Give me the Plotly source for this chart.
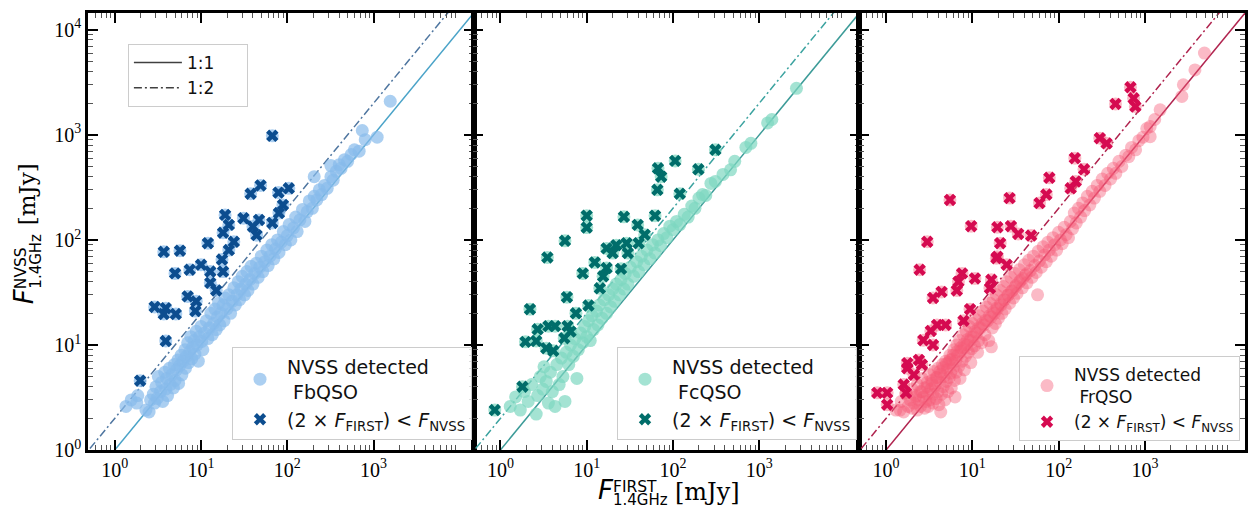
import plotly.graph_objects as go

# ---------------- data (mJy) ----------------
# Panel 1: FbQSO, NVSS detected (circles)
fb_circ_x = [1.35, 1.55, 1.8, 1.85, 2.3, 2.5, 2.6, 2.8, 2.9, 3.0, 3.1, 3.2, 3.4, 3.5, 3.6, 3.8, 3.9, 4.0, 4.1, 4.3,
             4.4, 4.6, 4.8, 4.9, 5.0, 5.2, 5.4, 5.5, 5.7, 5.9, 6.0, 6.2, 6.5, 6.6, 6.8, 7.0, 7.2, 7.4, 7.6, 7.8,
             8.0, 8.3, 8.5, 8.8, 9.0, 9.3, 9.6, 10.0, 10.2, 10.5, 11.0, 11.5, 12.0, 12.5, 13.0, 13.5, 14.0, 14.5, 15.0, 15.5,
             16.0, 16.5, 17.0, 18.0, 18.5, 19.0, 20.0, 21, 22, 23, 24, 25, 26, 27, 28, 29, 30, 32, 33, 34,
             35, 37, 38, 40, 42, 44, 46, 48, 50, 52, 55, 58, 60, 63, 66, 70, 73, 77, 80, 85,
             90, 95, 100, 105, 110, 118, 125, 130, 140, 150, 160, 170, 180, 195, 205, 205, 220, 235, 250, 270,
             290, 320, 320, 340, 370, 400, 420, 460, 500, 550, 600, 680, 740, 800, 1100, 1560]
fb_circ_y = [2.6, 3.0, 2.8, 3.3, 2.4, 2.3, 3.0, 3.4, 2.8, 4.0, 3.1, 5.0, 3.6, 4.4, 2.9, 5.5, 3.8, 4.8, 3.3, 6.0,
             4.2, 5.2, 3.9, 6.5, 4.6, 5.8, 7.2, 4.3, 6.4, 8.0, 5.2, 7.0, 9.0, 6.0, 7.8, 10.5, 6.8, 8.6, 12.0, 7.4,
             9.5, 11.0, 8.2, 13.5, 10.0, 7.0, 12.0, 15.0, 10.8, 9.0, 13.0, 17.0, 11.5, 14.5, 20.0, 12.5, 16.0, 22.0, 14.0, 18.5,
             25.0, 15.5, 20.0, 24.0, 17.0, 28.0, 22.0, 30, 20, 26, 35, 24, 30, 40, 27, 34, 45, 30, 38, 50,
             33, 42, 56, 38, 48, 60, 44, 55, 70, 50, 62, 80, 57, 70, 90, 66, 82, 100, 76, 95,
             120, 90, 110, 140, 100, 130, 165, 120, 155, 195, 150, 185, 235, 200, 400, 260, 240, 300, 270, 330,
             310, 510, 400, 370, 450, 520, 480, 580, 560, 650, 720, 700, 1100, 900, 950, 2090]
# Panel 1: (2 x F_FIRST) < F_NVSS (crosses)
fb_cross_x = [67, 37.6, 49, 79, 104, 89, 80, 19, 21, 18, 31, 47, 40, 44, 67, 12, 24, 21, 17.5, 3.7,
              5.7, 5.0, 7.4, 10, 12.8, 18, 12.8, 15, 7.0, 8.8, 8.6, 2.9, 3.9, 3.7, 5.1, 3.9, 1.97]
fb_cross_y = [980, 275, 330, 282, 310, 215, 180, 173, 139, 117, 161, 155, 134, 111, 145, 93, 96, 80, 65, 77,
              79, 48, 52, 58, 50, 50, 39, 33, 29, 26, 21, 23, 22.4, 19.7, 19.7, 10.9, 4.57]

# Panel 2: FcQSO
fc_circ_x = [1.3, 1.5, 1.7, 1.9, 2.1, 2.3, 2.6, 2.7, 2.9, 3.1, 3.2, 3.4, 3.6, 3.8, 4.0, 4.3, 4.5, 4.8, 5.1, 5.3,
             5.6, 5.8, 6.2, 6.5, 7.0, 7.3, 7.7, 8.0, 8.5, 9.0, 9.5, 10.0, 10.5, 11.0, 11.5, 12.0, 13.0, 13.5, 14.0, 15.0,
             16.0, 17.0, 18.0, 19.0, 20.0, 21.0, 22.0, 24.0, 25.0, 27.0, 28.0, 30.0, 32.0, 35.0, 38.0, 40.0, 43.0, 46.0, 50.0, 54.0,
             58.0, 62.0, 67.0, 72.0, 78.0, 85.0, 92.0, 100.0, 110.0, 120.0, 135.0, 150.0, 165.0, 180.0, 200.0, 220.0, 240.0, 275.0, 310.0, 380.0,
             465.0, 520.0, 700.0, 800.0, 1250.0, 1400.0, 2700.0]
fc_circ_y = [2.6, 3.2, 2.4, 3.6, 2.9, 4.2, 2.2, 3.3, 5.0, 3.8, 6.2, 4.5, 2.8, 5.5, 3.6, 2.6, 6.5, 4.2, 7.5, 5.0,
             2.9, 8.5, 6.5, 10.0, 7.8, 11.5, 4.8, 9.0, 13.0, 10.5, 15.0, 12.0, 17.0, 11.0, 19.0, 14.0, 21.0, 15.5, 24.0, 18.0,
             27.0, 20.0, 30.0, 23.0, 34.0, 26.0, 38.0, 30.0, 42.0, 34.0, 48.0, 38.0, 55.0, 45.0, 62.0, 50.0, 70.0, 58.0, 80.0, 66.0,
             90.0, 75.0, 100.0, 88.0, 115.0, 105.0, 135.0, 125.0, 150.0, 140.0, 175.0, 165.0, 210.0, 200.0, 250.0, 270.0, 265.0, 345.0, 360.0, 420.0,
             465.0, 560.0, 760.0, 830.0, 1300.0, 1400.0, 2770.0]
fc_cross_x = [310, 106, 67, 73, 197, 66, 120, 10, 10, 27, 62, 39, 47, 5.6, 3.5, 17, 22, 29, 20, 30,
              40, 12.4, 17, 9.0, 25, 15.5, 14.2, 5.9, 10.5, 7.5, 2.2, 2.7, 3.6, 4.3, 6.0, 6.5, 1.95, 2.6, 3.4, 4.1,
              5.5, 1.8, 0.86]
fc_cross_y = [720, 565, 480, 400, 470, 300, 275, 170, 131, 166, 170, 139, 112, 98, 68, 83, 89, 93, 75, 75,
              93, 61, 54, 48, 53, 45, 34.6, 28.5, 23.7, 20, 21.9, 14.1, 15.1, 15.1, 15.1, 13.4, 10.7, 10.9, 9.3, 8.8,
              11.6, 4.0, 2.4]

# Panel 3: FrQSO
fr_circ_x = [1.3, 1.45, 1.5, 1.6, 1.7, 1.8, 1.9, 2.0, 2.0, 2.1, 2.2, 2.3, 2.3, 2.4, 2.5, 2.5, 2.6, 2.7, 2.8, 2.8,
             2.9, 3.0, 3.0, 3.1, 3.2, 3.2, 3.3, 3.4, 3.5, 3.5, 3.6, 3.7, 3.8, 3.9, 4.0, 4.0, 4.1, 4.2, 4.3, 4.3,
             4.4, 4.5, 4.6, 4.7, 4.8, 4.9, 5.0, 5.1, 5.2, 5.3, 5.4, 5.5, 5.6, 5.7, 5.8, 6.0, 6.1, 6.2, 6.3, 6.4,
             6.5, 6.6, 6.8, 7.0, 7.1, 7.2, 7.4, 7.6, 7.8, 8.0, 8.1, 8.3, 8.5, 8.7, 9.0, 9.2, 9.4, 9.6, 9.8, 10.0,
             10.3, 10.6, 10.9, 11.2, 11.5, 11.8, 12.0, 12.4, 12.8, 13.2, 13.6, 14.0, 14.5, 15.0, 15.5, 16.0, 16.6, 16.5, 17.0, 17.5,
             18.0, 18.5, 19.0, 19.5, 20.0, 21.0, 21.5, 22.0, 23.0, 23.5, 24.0, 25.0, 26.0, 27.0, 28.0, 29.0, 30.0, 31.0, 32.0, 33.0,
             35.0, 36.0, 38.0, 40.0, 41.0, 43.0, 45.0, 47.0, 49.0, 51.0, 53.0, 55.0, 57.0, 58.0, 60.0, 63.0, 66.0, 69.0, 72.0, 75.0,
             78.0, 82.0, 86.0, 90.0, 95.0, 100.0, 105.0, 110.0, 116.0, 122.0, 130.0, 137.0, 145.0, 152.0, 160.0, 170.0, 180.0, 190.0, 200.0, 215.0,
             230.0, 245.0, 260.0, 280.0, 300.0, 320.0, 345.0, 370.0, 400.0, 430.0, 460.0, 500.0, 540.0, 600.0, 650.0, 700.0, 780.0, 850.0, 950.0, 1050.0,
             1150.0, 1150.0, 1300.0, 1500.0, 2680.0, 2790.0, 3800.0, 4900.0,
             2.2, 2.6, 3.0, 3.4, 3.8, 4.2, 4.6, 5.0, 5.5, 6.0, 6.6, 7.3, 8.0, 8.8, 9.7, 10.7, 11.8, 13.0, 14.3, 15.8,
             17.4, 19.2, 21.2, 23.4, 25.8, 28.5, 31.5, 34.8, 38.4, 42.4]
fr_circ_y = [2.4, 2.4, 2.9, 2.3, 3.4, 2.6, 3.0, 2.5, 3.8, 2.8, 3.3, 2.4, 4.2, 3.0, 3.6, 2.6, 4.8, 3.2, 2.5, 3.9,
             2.9, 4.4, 3.4, 2.6, 5.2, 3.0, 3.8, 4.6, 2.8, 3.4, 5.6, 4.1, 3.1, 4.9, 3.6, 6.0, 2.7, 4.4, 5.3, 2.3,
             3.4, 6.5, 4.0, 5.0, 3.0, 7.0, 4.5, 5.8, 3.6, 6.8, 4.9, 8.0, 5.4, 3.9, 7.3, 6.0, 9.0, 4.6, 3.2, 7.0,
             5.5, 10.0, 8.0, 6.3, 11.0, 4.8, 8.8, 7.0, 12.5, 9.5, 5.8, 7.8, 13.5, 10.0, 8.5, 15.0, 11.0, 6.8, 9.2, 16.0,
             12.0, 9.8, 17.5, 13.0, 8.5, 11.0, 19.0, 14.5, 10.5, 21.0, 15.5, 12.5, 23.0, 17.0, 11.0, 25.0, 9.6, 18.5, 14.5, 27.0,
             20.0, 16.0, 30.0, 22.0, 18.0, 33.0, 24.0, 20.0, 36.0, 27.0, 22.0, 40.0, 30.0, 25.0, 44.0, 33.0, 28.0, 48.0, 37.0, 31.0,
             52.0, 41.0, 35.0, 58.0, 46.0, 39.0, 64.0, 51.0, 44.0, 70.0, 57.0, 49.0, 30.0, 78.0, 63.0, 55.0, 86.0, 72.0, 62.0, 95.0,
             80.0, 70.0, 105.0, 90.0, 80.0, 118.0, 100.0, 92.0, 132.0, 112.0, 105.0, 150.0, 128.0, 180.0, 145.0, 200.0, 165.0, 225.0, 190.0, 260.0,
             215.0, 290.0, 250.0, 330.0, 290.0, 380.0, 330.0, 430.0, 380.0, 480.0, 430.0, 560.0, 500.0, 640.0, 620.0, 760.0, 720.0, 880.0, 950.0, 1150.0,
             960.0, 1200.0, 1400.0, 1730.0, 2320.0, 3000.0, 4150.0, 6000.0,
             3.2, 3.6, 4.0, 4.3, 4.9, 5.6, 6.1, 6.6, 7.2, 8.0, 8.6, 9.4, 10.2, 11.3, 12.0, 13.4, 14.5, 16.0, 17.2, 19.0,
             20.6, 22.5, 24.8, 27.0, 29.8, 32.5, 36.0, 39.5, 43.0, 47.5]
fr_cross_x = [680, 740, 775, 456, 300, 360, 154, 197, 78, 158, 138, 72, 60, 5.5, 27, 9.7, 19.5, 28, 34, 48,
              21, 3.0, 19.5, 2.45, 19, 25, 7.6, 6.9, 6.6, 10.7, 16.6, 16, 4.4, 3.5, 9.4, 7.9, 3.9, 4.9, 3.3, 2.7,
              3.5, 1.76, 1.76, 2.4, 2.6, 2.1, 1.6, 1.7, 0.79, 1.03, 1.03]
fr_cross_y = [2840, 2230, 1860, 1970, 930, 830, 600, 470, 390, 360, 310, 270, 224, 240, 250, 135, 132, 135, 114, 110,
              93, 96, 69, 52, 67, 58, 48, 40, 33, 43, 41.7, 34.7, 32, 28, 21.9, 17, 15.5, 15.5, 13.6, 11.1,
              10, 6.7, 6.0, 7.2, 6.5, 5.2, 4.2, 3.5, 3.5, 3.5, 2.7]

# reference lines (1:1 and 1:2)
line_x = [0.3, 30000]
ratio_11 = 1
ratio_12 = 2

tick_vals_x = [1, 10, 100, 1000]
tick_text_x = ["10<sup>0</sup>", "10<sup>1</sup>", "10<sup>2</sup>", "10<sup>3</sup>"]
tick_vals_y = [1, 10, 100, 1000, 10000]
tick_text_y = ["10<sup>0</sup>", "10<sup>1</sup>", "10<sup>2</sup>", "10<sup>3</sup>", "10<sup>4</sup>"]
minor_x = [m * 10 ** e for e in range(-1, 4) for m in range(2, 10)]
minor_y = [m * 10 ** e for e in range(0, 4) for m in range(2, 10)]

panels = [
    dict(name="FbQSO", cx=fb_circ_x, cy=fb_circ_y, xx=fb_cross_x, xy=fb_cross_y,
         circ="rgba(135,186,235,0.70)", cross="#0c4d8f", solid="#4aa3c8", dashc="#4f76a0",
         legend="legend2"),
    dict(name="FcQSO", cx=fc_circ_x, cy=fc_circ_y, xx=fc_cross_x, xy=fc_cross_y,
         circ="rgba(125,215,192,0.70)", cross="#006d6a", solid="#3c9b98", dashc="#3ca3a0",
         legend="legend3"),
    dict(name="FrQSO", cx=fr_circ_x, cy=fr_circ_y, xx=fr_cross_x, xy=fr_cross_y,
         circ="rgba(245,90,120,0.42)", cross="#d50a50", solid="#b0244f", dashc="#b0244f",
         legend="legend4"),
]

fig = go.Figure()

# legend for the reference lines
fig.add_trace(go.Scatter(x=[None], y=[None], mode="lines", name="1:1&nbsp;&nbsp;&nbsp;&nbsp;&nbsp;",
                         line=dict(color="#404040", width=1.5), legend="legend"))
fig.add_trace(go.Scatter(x=[None], y=[None], mode="lines", name="1:2",
                         line=dict(color="#404040", width=1.5, dash="8px,3px,2px,3px"), legend="legend"))

for i, p in enumerate(panels):
    xa = "x" if i == 0 else f"x{i+1}"
    ya = "y" if i == 0 else f"y{i+1}"
    fig.add_trace(go.Scatter(x=line_x, y=[v * ratio_11 for v in line_x], mode="lines",
                             line=dict(color=p["solid"], width=1.5), xaxis=xa, yaxis=ya,
                             showlegend=False, hoverinfo="skip"))
    fig.add_trace(go.Scatter(x=line_x, y=[v * ratio_12 for v in line_x], mode="lines",
                             line=dict(color=p["dashc"], width=1.5, dash="8px,3px,2px,3px"),
                             xaxis=xa, yaxis=ya, showlegend=False, hoverinfo="skip"))
    fig.add_trace(go.Scatter(x=p["cx"] + p["xx"], y=p["cy"] + p["xy"], mode="markers",
                             marker=dict(size=13, color=p["circ"], line=dict(width=0)),
                             name="NVSS detected<br>&nbsp;" + p["name"], legend=p["legend"],
                             xaxis=xa, yaxis=ya))
    fig.add_trace(go.Scatter(x=p["xx"], y=p["xy"], mode="markers",
                             marker=dict(symbol="x", size=11, color=p["cross"], line=dict(width=0)),
                             name="(2 × <i>F</i><sub>FIRST</sub>) &lt; <i>F</i><sub>NVSS</sub>",
                             legend=p["legend"], xaxis=xa, yaxis=ya))

axis_common = dict(type="log", showline=True, linewidth=2.5, linecolor="black", mirror="allticks",
                   ticks="inside", ticklen=10, tickwidth=1.5, tickcolor="black",
                   showgrid=False, zeroline=False,
                   tickfont=dict(family="Liberation Serif", size=20, color="black"))

L, R, T, B = 88, 2, 13, 60
W, H = 1250, 510
PW, PH = W - L - R, H - T - B


def px(x):
    return (x - L) / PW


def py(y):
    return (H - B - y) / PH


layout_axes = {}
doms = [[0, 1 / 3], [1 / 3, 2 / 3], [2 / 3, 1]]
for i in range(3):
    xk = "xaxis" if i == 0 else f"xaxis{i+1}"
    yk = "yaxis" if i == 0 else f"yaxis{i+1}"
    layout_axes[xk] = dict(axis_common, domain=doms[i], range=[-0.31, 4.16],
                           anchor="y" if i == 0 else f"y{i+1}",
                           tickmode="array", tickvals=tick_vals_x, ticktext=tick_text_x,
                           minor=dict(tickmode="array", tickvals=minor_x, ticks="inside", ticklen=5,
                                      tickwidth=1, tickcolor="#555", showgrid=False))
    layout_axes[yk] = dict(axis_common, domain=[0, 1], range=[0, 4.16],
                           anchor="x" if i == 0 else f"x{i+1}",
                           tickmode="array", tickvals=tick_vals_y, ticktext=tick_text_y,
                           showticklabels=(i == 0),
                           minor=dict(tickmode="array", tickvals=minor_y, ticks="inside", ticklen=5,
                                      tickwidth=1, tickcolor="#555", showgrid=False))

leg_common = dict(bordercolor="#cccccc", borderwidth=1, bgcolor="rgba(255,255,255,0.8)",
                  font=dict(family="DejaVu Sans", size=19, color="#111111"), itemwidth=44)

fig.update_layout(
    width=W, height=H, margin=dict(l=L, r=R, t=T, b=B),
    plot_bgcolor="white", paper_bgcolor="white", showlegend=True,
    legend=dict(leg_common, x=px(128), y=py(44), xanchor="left", yanchor="top",
                font=dict(family="DejaVu Sans", size=17, color="#111111"), itemwidth=48),
    legend2=dict(leg_common, x=px(473), y=py(440), xanchor="right", yanchor="bottom"),
    legend3=dict(leg_common, x=px(859), y=py(440), xanchor="right", yanchor="bottom"),
    legend4=dict(leg_common, x=px(1243), y=py(441), xanchor="right", yanchor="bottom",
                 font=dict(family="DejaVu Sans", size=17, color="#111111")),
    **layout_axes,
)

ann = []
# x label
ann.append(dict(text="<i>F</i>", x=px(597), y=py(490), xanchor="left", yanchor="middle",
                font=dict(family="DejaVu Sans", size=26, color="black")))
ann.append(dict(text="FIRST", x=px(612), y=py(486.5), xanchor="left", yanchor="middle",
                font=dict(family="DejaVu Sans", size=15.5, color="black")))
ann.append(dict(text="1.4GHz", x=px(612), y=py(500), xanchor="left", yanchor="middle",
                font=dict(family="DejaVu Sans", size=15, color="black")))
ann.append(dict(text="[mJy]", x=px(675), y=py(492), xanchor="left", yanchor="middle",
                font=dict(family="DejaVu Serif", size=24, color="black")))
# y label (rotated)
ann.append(dict(text="<i>F</i>", x=px(24), y=py(306), xanchor="center", yanchor="bottom", textangle=-90,
                font=dict(family="DejaVu Sans", size=26, color="black")))
ann.append(dict(text="NVSS", x=px(21), y=py(291), xanchor="center", yanchor="bottom", textangle=-90,
                font=dict(family="DejaVu Sans", size=15.5, color="black")))
ann.append(dict(text="1.4GHz", x=px(35), y=py(291), xanchor="center", yanchor="bottom", textangle=-90,
                font=dict(family="DejaVu Sans", size=15, color="black")))
ann.append(dict(text="[mJy]", x=px(27), y=py(227), xanchor="center", yanchor="bottom", textangle=-90,
                font=dict(family="DejaVu Serif", size=23, color="black")))
for a in ann:
    a.update(xref="paper", yref="paper", showarrow=False)
fig.update_layout(annotations=ann)

fig.write_html("out.html")
